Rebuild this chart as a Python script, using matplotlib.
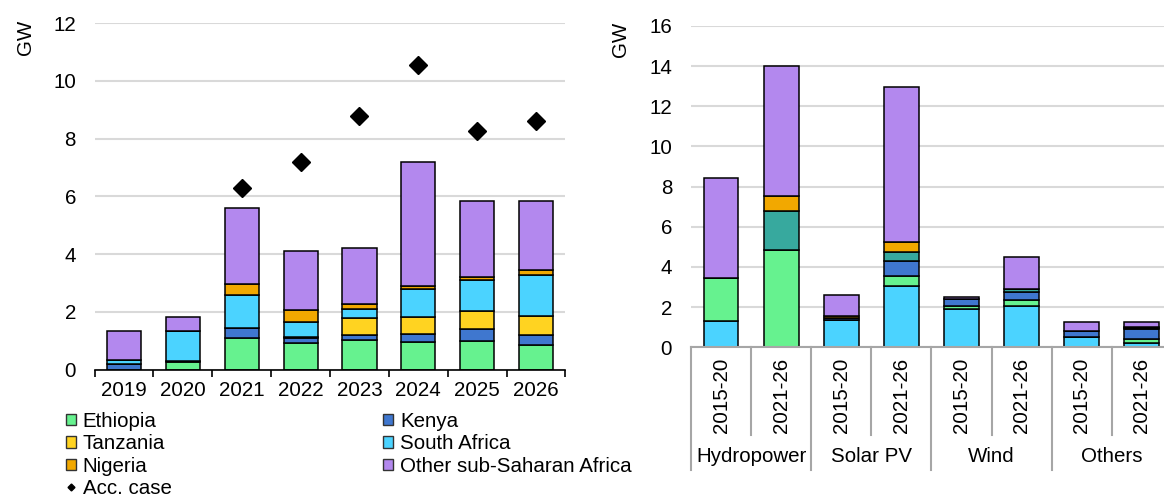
import numpy as np
import matplotlib
matplotlib.use("Agg")
import matplotlib.pyplot as plt
from matplotlib.transforms import blended_transform_factory
from matplotlib.patches import Patch
from matplotlib.lines import Line2D

plt.rcParams["font.family"] = ["Liberation Sans", "DejaVu Sans"]
plt.rcParams["font.size"] = 14.8


# =========================
# 1. DATA
# =========================

years = ["2019", "2020", "2021", "2022", "2023", "2024", "2025", "2026"]

ethiopia = [0.00, 0.27, 1.09, 0.92, 1.02, 0.94, 0.99, 0.86]
kenya = [0.19, 0.02, 0.36, 0.16, 0.17, 0.28, 0.40, 0.34]
tanzania = [0.00, 0.00, 0.00, 0.05, 0.60, 0.60, 0.63, 0.67]
south_africa = [0.13, 1.04, 1.13, 0.50, 0.29, 0.97, 1.07, 1.42]
nigeria = [0.00, 0.00, 0.37, 0.44, 0.19, 0.10, 0.13, 0.14]
other_ssa = [1.01, 0.50, 2.65, 2.03, 1.94, 4.29, 2.62, 2.41]

acc_case = [np.nan, np.nan, 6.28, 7.17, 8.77, 10.54, 8.27, 8.60]

periods = ["2015-20", "2021-26"] * 4
technologies = ["Hydropower", "Solar PV", "Wind", "Others"]

r_south_africa = [1.32, 0.00, 1.36, 3.05, 1.90, 2.04, 0.51, 0.23]
r_ethiopia = [2.13, 4.84, 0.00, 0.50, 0.15, 0.31, 0.00, 0.17]
r_kenya = [0.00, 0.00, 0.10, 0.76, 0.35, 0.42, 0.30, 0.50]
r_teal = [0.00, 1.93, 0.00, 0.42, 0.00, 0.13, 0.00, 0.05]
r_nigeria = [0.00, 0.77, 0.10, 0.53, 0.00, 0.00, 0.00, 0.04]
r_other_ssa = [4.96, 6.45, 1.04, 7.71, 0.12, 1.61, 0.47, 0.29]


# =========================
# 2. STYLE
# =========================

C_ETH = "#66F28F"
C_KEN = "#3F77CF"
C_TAN = "#FFD321"
C_SA = "#4BD3FF"
C_NIG = "#F2A800"
C_OTH = "#B388EE"
C_TEAL = "#37A99E"
GRID = "#D9D9D9"
AXGRAY = "#A6A6A6"

EDGE = dict(edgecolor="black", linewidth=1.1)
BAR_W = 0.58


def stack(ax, x, series, colors):
    bottom = np.zeros(len(x))
    for vals, col in zip(series, colors):
        vals = np.array(vals)
        ax.bar(x, vals, BAR_W, bottom=bottom, color=col, zorder=2, **EDGE)
        bottom = bottom + vals


fig = plt.figure(figsize=(11.64, 4.96), dpi=100)


# =========================
# 3. LEFT CHART - BY COUNTRY
# =========================

ax1 = fig.add_axes([0.0813, 0.255, 0.4045, 0.6986])
x1 = np.arange(len(years))

stack(ax1, x1,
      [ethiopia, kenya, tanzania, south_africa, nigeria, other_ssa],
      [C_ETH, C_KEN, C_TAN, C_SA, C_NIG, C_OTH])
ax1.plot(x1, acc_case, linestyle="none", marker="D", markersize=9,
         color="black", zorder=3)

ax1.set_xlim(-0.5, len(years) - 0.5)
ax1.set_ylim(0, 12)
ax1.set_yticks(np.arange(0, 13, 2))
ax1.grid(axis="y", color=GRID, linewidth=1.5)
ax1.set_axisbelow(True)
ax1.set_xticks(x1)
ax1.set_xticklabels(years)
ax1.set_xticks(np.arange(-0.5, len(years)), minor=True)
ax1.tick_params(axis="x", which="major", length=0, pad=8)
ax1.tick_params(axis="x", which="minor", length=5, width=1.2, color="black")
ax1.tick_params(axis="y", length=0, pad=13.5)
for s in ["top", "right", "left"]:
    ax1.spines[s].set_visible(False)
ax1.spines["bottom"].set_linewidth(1.2)
fig.text(0.0215, 0.925, "GW", rotation=90, ha="center", va="center")


# =========================
# 4. RIGHT CHART - BY TECHNOLOGY
# =========================

ax2 = fig.add_axes([0.5936, 0.2998, 0.4132, 0.6478])
x2 = np.arange(len(periods))

stack(ax2, x2,
      [r_south_africa, r_ethiopia, r_kenya, r_teal, r_nigeria, r_other_ssa],
      [C_SA, C_ETH, C_KEN, C_TEAL, C_NIG, C_OTH])

ax2.set_xlim(-0.5, len(periods) - 0.5)
ax2.set_ylim(0, 16)
ax2.set_yticks(np.arange(0, 17, 2))
ax2.grid(axis="y", color=GRID, linewidth=1.5)
ax2.set_axisbelow(True)
ax2.set_xticks(x2)
ax2.set_xticklabels(periods, rotation=90)
ax2.tick_params(axis="x", length=0, pad=7.5)
ax2.tick_params(axis="y", length=0, pad=13.5)
for s in ["top", "right", "left"]:
    ax2.spines[s].set_visible(False)
ax2.spines["bottom"].set_color(AXGRAY)
ax2.spines["bottom"].set_linewidth(1.5)

# table-like category separators under the axis
trans = blended_transform_factory(ax2.transData, ax2.transAxes)
for b in np.arange(-0.5, len(periods)):
    y_end = -0.382 if (b + 0.5) % 2 == 0 else -0.273
    ax2.plot([b, b], [0, y_end], color=AXGRAY, linewidth=1.5,
             transform=trans, clip_on=False)
for i, name in enumerate(technologies):
    ax2.text(2 * i + 0.5, -0.341, name, transform=trans,
             ha="center", va="center")
fig.text(0.5335, 0.921, "GW", rotation=90, ha="center", va="center")


# =========================
# 5. LEGEND
# =========================

def sq(col):
    return Patch(facecolor=col, edgecolor="#333333", linewidth=1.0)


handles = [
    sq(C_ETH), sq(C_TAN), sq(C_NIG),
    Line2D([], [], linestyle="none", marker="D", markersize=3.5, color="black"),
    sq(C_KEN), sq(C_SA), sq(C_OTH),
]
labels = ["Ethiopia", "Tanzania", "Nigeria", "Acc. case",
          "Kenya", "South Africa", "Other sub-Saharan Africa"]

fig.legend(handles, labels, ncol=2, loc="upper left",
           bbox_to_anchor=(0.0565, 1 - 412 / 496), frameon=False,
           borderpad=0, borderaxespad=0, handlelength=0.48,
           handleheight=0.48, handletextpad=0.35, labelspacing=0.16,
           columnspacing=10.3)

fig.savefig("out.png", dpi=100)
